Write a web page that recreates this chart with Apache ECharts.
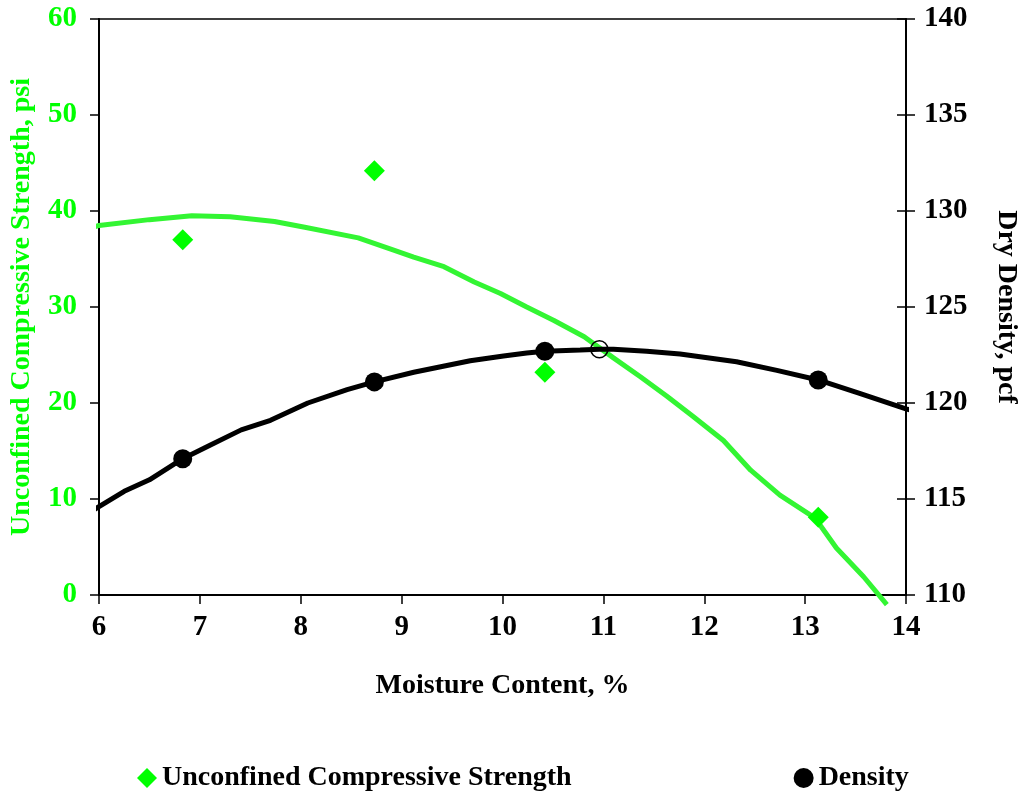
<!DOCTYPE html>
<html>
<head>
<meta charset="utf-8">
<script src="https://cdn.jsdelivr.net/npm/echarts@6/dist/echarts.min.js"></script>
<style>
  html, body { margin: 0; padding: 0; background: #fff; }
  #chart { width: 1030px; height: 794px; }
</style>
</head>
<body>
<div id="chart"></div>
<script>
// Measured specimens: moisture content (%), strength (psi), dry density (pcf)
const testMoisture = [6.83, 8.73, 10.42, 13.13];
const ucsValues = [37.0, 44.2, 23.2, 8.1];
const densityValues = [117.1, 121.1, 122.7, 121.2];

// Fitted trend for unconfined compressive strength (moisture, psi)
const ucsTrendX = [5.91, 6.0, 6.5, 6.92, 7.3, 7.74, 8.04, 8.57, 8.9, 9.12, 9.42, 9.72, 9.98, 10.24, 10.51, 10.81, 11.10, 11.37, 11.63, 11.89, 12.19, 12.46, 12.75, 13.10, 13.31, 13.58, 13.81];
const ucsTrendY = [38.2, 38.5, 39.1, 39.5, 39.4, 38.9, 38.3, 37.2, 36.0, 35.2, 34.2, 32.6, 31.4, 30.0, 28.6, 26.9, 24.7, 22.7, 20.7, 18.6, 16.1, 13.0, 10.4, 8.0, 4.9, 1.9, -1.0];

// Fitted compaction curve (moisture, pcf)
const densTrendX = [5.91, 6.0, 6.25, 6.5, 6.83, 7.1, 7.41, 7.7, 8.07, 8.46, 8.73, 9.12, 9.68, 10.01, 10.24, 10.42, 10.77, 10.96, 11.1, 11.43, 11.76, 12.32, 12.72, 13.13, 13.54, 14.0, 14.12];
const densTrendY = [114.3, 114.6, 115.4, 116.0, 117.1, 117.8, 118.6, 119.1, 120.0, 120.7, 121.1, 121.6, 122.2, 122.45, 122.6, 122.7, 122.76, 122.8, 122.8, 122.7, 122.55, 122.15, 121.7, 121.2, 120.5, 119.7, 119.5];

// Optimum moisture content and maximum dry density
const optimum = [10.96, 122.8];

// Axis ticks
const xTicks = { min: 6, max: 14, step: 1 };
const ucsTicks = { min: 0, max: 60, step: 10 };
const densTicks = { min: 110, max: 140, step: 5 };

const zip = (a, b) => a.map((v, i) => [v, b[i]]);

const FONT = "'Liberation Serif', 'Times New Roman', serif";
const GREEN = '#00ff00';
const GREEN_LINE = '#33f533';
const FS = 28;      // titles and legend
const FS_TICK = 29; // tick labels

const chart = echarts.init(document.getElementById('chart'), null, { renderer: 'canvas' });

chart.setOption({
  animation: false,
  backgroundColor: '#ffffff',
  grid: {
    left: 98, right: 124, top: 19, bottom: 199,
    show: true, borderColor: '#000', borderWidth: 1.5, backgroundColor: 'transparent'
  },
  legend: {
    left: 132, top: 759,
    itemWidth: 20, itemHeight: 20, itemGap: 222,
    textStyle: { fontFamily: FONT, fontWeight: 'bold', fontSize: FS, color: '#000' },
    data: [
      { name: 'Unconfined Compressive Strength', icon: 'diamond' },
      { name: 'Density', icon: 'circle' }
    ]
  },
  xAxis: {
    type: 'value', min: xTicks.min, max: xTicks.max, interval: xTicks.step,
    name: 'Moisture Content, %', nameLocation: 'middle', nameGap: 77,
    nameTextStyle: { fontFamily: FONT, fontWeight: 'bold', fontSize: FS, color: '#000' },
    axisLine: { lineStyle: { color: '#000', width: 2 } },
    axisTick: { inside: false, length: 9, lineStyle: { color: '#000', width: 1.5 } },
    axisLabel: { margin: 18, fontFamily: FONT, fontWeight: 'bold', fontSize: FS_TICK, color: '#000' },
    splitLine: { show: false }
  },
  yAxis: [
    {
      type: 'value', position: 'left', min: ucsTicks.min, max: ucsTicks.max, interval: ucsTicks.step,
      name: 'Unconfined Compressive Strength, psi', nameLocation: 'middle', nameGap: 63, nameRotate: 90,
      nameTextStyle: { fontFamily: FONT, fontWeight: 'bold', fontSize: FS, color: GREEN },
      axisLine: { show: true, lineStyle: { color: '#000', width: 2 } },
      axisTick: { show: true, inside: false, length: 9, lineStyle: { color: '#000', width: 1.5 } },
      axisLabel: { margin: 22, fontFamily: FONT, fontWeight: 'bold', fontSize: FS_TICK, color: GREEN },
      splitLine: { show: false }
    },
    {
      type: 'value', position: 'right', min: densTicks.min, max: densTicks.max, interval: densTicks.step,
      name: 'Dry Density, pcf', nameLocation: 'middle', nameGap: 86, nameRotate: -90,
      nameTextStyle: { fontFamily: FONT, fontWeight: 'bold', fontSize: FS, color: '#000' },
      axisLine: { show: true, lineStyle: { color: '#000', width: 2 } },
      axisTick: { show: true, inside: false, length: 9, lineStyle: { color: '#000', width: 1.5 } },
      axisLabel: { margin: 18, fontFamily: FONT, fontWeight: 'bold', fontSize: FS_TICK, color: '#000' },
      splitLine: { show: false }
    },
    {
      // inner half of the crossing ticks on the density axis
      type: 'value', position: 'right', min: densTicks.min, max: densTicks.max, interval: densTicks.step,
      axisLine: { show: false },
      axisTick: { show: true, inside: true, length: 9, lineStyle: { color: '#000', width: 1.5 } },
      axisLabel: { show: false },
      splitLine: { show: false }
    }
  ],
  series: [
    {
      name: 'UCS trend', type: 'line', yAxisIndex: 0, clip: false, z: 2,
      showSymbol: false, symbol: 'none', silent: true,
      lineStyle: { color: GREEN_LINE, width: 5 },
      data: zip(ucsTrendX, ucsTrendY)
    },
    {
      name: 'Density trend', type: 'line', yAxisIndex: 1, clip: false, z: 3,
      showSymbol: false, symbol: 'none', silent: true,
      lineStyle: { color: '#000', width: 5 },
      data: zip(densTrendX, densTrendY)
    },
    {
      name: 'Unconfined Compressive Strength', type: 'scatter', yAxisIndex: 0, z: 4,
      symbol: 'diamond', symbolSize: 21,
      itemStyle: { color: GREEN, opacity: 1 },
      data: zip(testMoisture, ucsValues)
    },
    {
      name: 'Density', type: 'scatter', yAxisIndex: 1, z: 5,
      symbol: 'circle', symbolSize: 19,
      itemStyle: { color: '#000', opacity: 1 },
      data: zip(testMoisture, densityValues)
    },
    {
      name: 'Optimum', type: 'scatter', yAxisIndex: 1, z: 6,
      symbol: 'circle', symbolSize: 17,
      itemStyle: { color: 'rgba(255,255,255,0)', borderColor: '#000', borderWidth: 1.5, opacity: 1 },
      data: [optimum]
    }
  ]
});
</script>
</body>
</html>
